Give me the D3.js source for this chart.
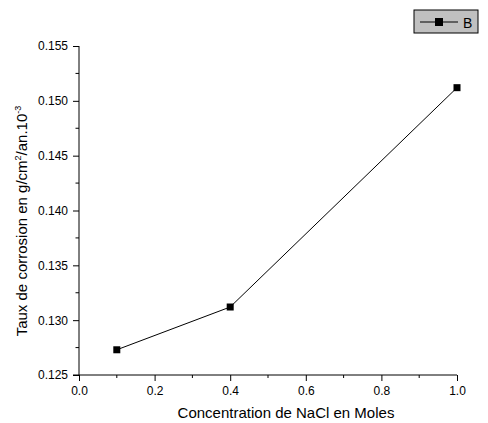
<!DOCTYPE html>
<html>
<head>
<meta charset="utf-8">
<script src="https://cdn.jsdelivr.net/npm/d3@7"></script>
<style>
  body { margin: 0; background: #fff; }
  svg { display: block; font-family: "Liberation Sans", Arial, sans-serif; }
</style>
</head>
<body>
<script>
const concentrations = [0.1, 0.4, 1.0];
const corrosionRates = [0.1273, 0.1312, 0.1512];
const xTicks = [0.0, 0.2, 0.4, 0.6, 0.8, 1.0];
const yTicks = [0.125, 0.130, 0.135, 0.140, 0.145, 0.150, 0.155];
const seriesName = "B";

const w = 488, h = 423;
const padLeft = 79, padRight = 457, padTop = 46, padBottom = 375;

const svg = d3.select("body").append("svg")
  .attr("width", w)
  .attr("height", h);

const x = d3.scaleLinear().domain([0, 1.0]).range([padLeft, padRight]);
const y = d3.scaleLinear().domain([0.125, 0.155]).range([padBottom, padTop]);

// axes, major ticks
const xAxis = d3.axisBottom(x).tickValues(xTicks).tickFormat(d3.format(".1f")).tickSize(6).tickPadding(5);
const yAxis = d3.axisLeft(y).tickValues(yTicks).tickFormat(d3.format(".3f")).tickSize(6).tickPadding(5);

const gx = svg.append("g").attr("transform", `translate(0,${padBottom})`).call(xAxis);
const gy = svg.append("g").attr("transform", `translate(${padLeft},0)`).call(yAxis);

// minor ticks
const xMinor = d3.range(xTicks.length - 1).map(i => (xTicks[i] + xTicks[i + 1]) / 2);
const yMinor = d3.range(yTicks.length - 1).map(i => (yTicks[i] + yTicks[i + 1]) / 2);
gx.selectAll(".minor").data(xMinor).enter().append("line")
  .attr("x1", d => x(d)).attr("x2", d => x(d))
  .attr("y1", 0).attr("y2", 3).attr("stroke", "#000");
gy.selectAll(".minor").data(yMinor).enter().append("line")
  .attr("y1", d => y(d)).attr("y2", d => y(d))
  .attr("x1", 0).attr("x2", -3.5).attr("stroke", "#000");

[gx, gy].forEach(g => {
  g.select(".domain").remove();
  g.selectAll("text").style("font-size", "12px").attr("fill", "#000");
  g.selectAll("line").attr("stroke", "#000");
});
svg.append("line").attr("x1", padLeft - 6).attr("x2", padRight).attr("y1", padBottom).attr("y2", padBottom).attr("stroke", "#000");
svg.append("line").attr("x1", padLeft).attr("x2", padLeft).attr("y1", padTop).attr("y2", padBottom).attr("stroke", "#000");

// data line + markers
const pts = concentrations.map((c, i) => [c, corrosionRates[i]]);
svg.append("path")
  .datum(pts)
  .attr("fill", "none")
  .attr("stroke", "#000")
  .attr("stroke-width", 1)
  .attr("d", d3.line().x(d => x(d[0])).y(d => y(d[1])));

svg.selectAll(".pt").data(pts).enter().append("rect")
  .attr("x", d => x(d[0]) - 3.5)
  .attr("y", d => y(d[1]) - 3.5)
  .attr("width", 7).attr("height", 7)
  .attr("fill", "#000");

// axis titles
svg.append("text")
  .attr("x", 286)
  .attr("y", 418)
  .attr("text-anchor", "middle")
  .style("font-size", "15px")
  .text("Concentration de NaCl en Moles");

const yt = svg.append("text")
  .attr("transform", "translate(27,221) rotate(-90)")
  .attr("text-anchor", "middle")
  .style("font-size", "15px");
yt.append("tspan").text("Taux de corrosion en g/cm");
yt.append("tspan").attr("dy", -6).style("font-size", "9px").text("2");
yt.append("tspan").attr("dy", 6).text("/an.10");
yt.append("tspan").attr("dy", -6).style("font-size", "9px").text("-3");

// legend
const legend = svg.append("g").attr("transform", "translate(414,10)");
legend.append("rect")
  .attr("width", 64).attr("height", 23)
  .attr("fill", "#c0c0c0").attr("stroke", "#000");
legend.append("line")
  .attr("x1", 6).attr("x2", 44).attr("y1", 12).attr("y2", 12)
  .attr("stroke", "#000");
legend.append("rect")
  .attr("x", 21).attr("y", 8).attr("width", 8).attr("height", 8)
  .attr("fill", "#000");
legend.append("text")
  .attr("x", 49).attr("y", 17.5)
  .style("font-size", "14px")
  .text(seriesName);
</script>
</body>
</html>
